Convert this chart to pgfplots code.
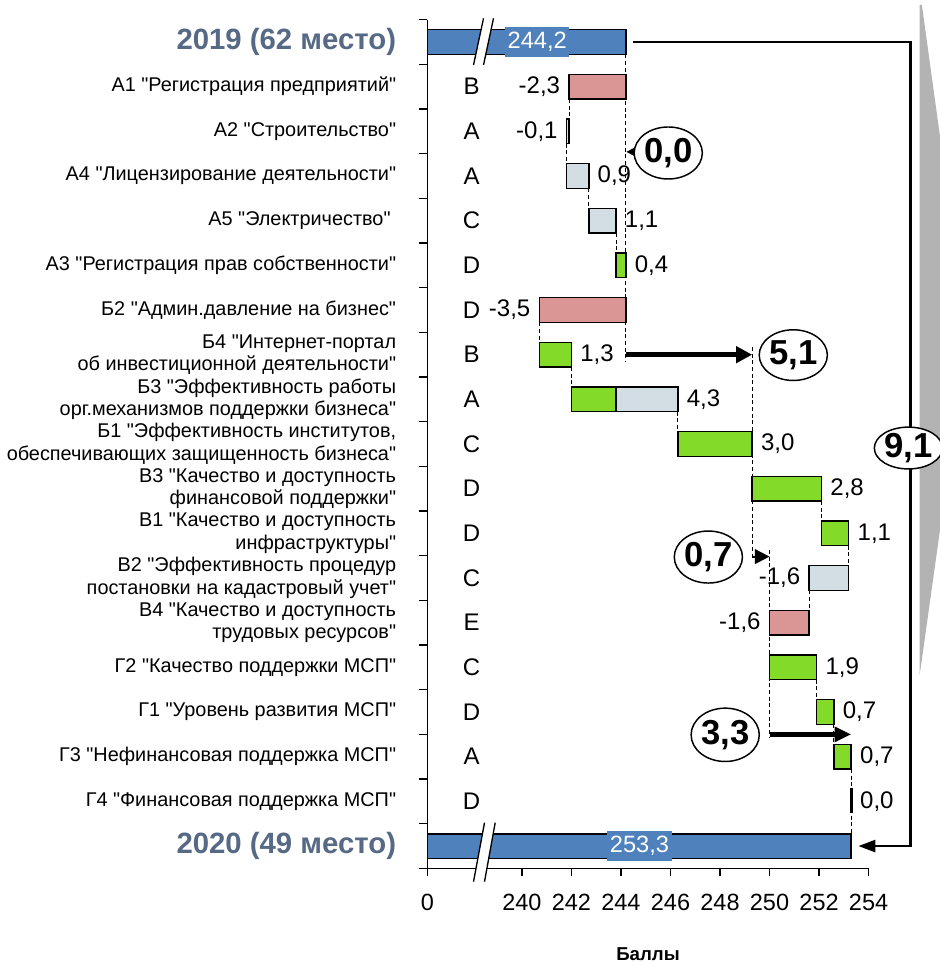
\documentclass[border=0pt]{standalone}
\usepackage{fontspec}
\setmainfont{Liberation Sans}[Ligatures=TeXOff]
\usepackage{pgfplots}
\pgfplotsset{compat=1.18}
\usetikzlibrary{arrows.meta,shapes.geometric}

\definecolor{barblue}{RGB}{79,129,189}
\definecolor{pgreen}{RGB}{132,218,40}
\definecolor{ppink}{RGB}{218,150,148}
\definecolor{pgray}{RGB}{210,222,228}
\definecolor{yearcol}{RGB}{86,106,134}
\definecolor{wedge}{RGB}{179,179,179}

\newcommand{\wbar}[4]{%
  \pgfmathsetmacro{\ylo}{#1-0.275}\pgfmathsetmacro{\yhi}{#1+0.275}%
  \edef\tmp{\noexpand\addplot[fill=#4, draw=black, line width=1.1pt, line join=miter] coordinates {(#2,\ylo) (#3,\ylo) (#3,\yhi) (#2,\yhi)} -- cycle;}\tmp}
\newcommand{\conn}[3]{\addplot[black, line width=0.7pt, dash pattern=on 3pt off 2pt] coordinates {(#1,#2) (#1,#3)};}
\newcommand{\valE}[3]{\node[anchor=east, inner sep=0pt, xshift=-6.5pt, font=\fontsize{18}{21}\selectfont] at (axis cs:#2,#1) {#3};}
\newcommand{\valW}[3]{\node[anchor=west, inner sep=0pt, xshift=6.5pt, font=\fontsize{18}{21}\selectfont] at (axis cs:#2,#1) {#3};}
\newcommand{\grade}[2]{\node[inner sep=0pt, font=\fontsize{18}{21}\selectfont] at (axis cs:237.97,#1) {#2};}
\newcommand{\yearlab}[1]{\textbf{\color{yearcol}\fontsize{22}{26}\selectfont #1}}

\begin{document}
\begin{tikzpicture}
\begin{axis}[
  scale only axis,
  width=330.75pt, height=636.45pt,
  xmin=236.186, xmax=254,
  ymin=-0.5, ymax=18.5,
  clip=false,
  axis x line*=bottom, axis y line*=left,
  axis line style={line width=1pt},
  tick align=outside,
  major tick length=6pt,
  tick style={black, line width=1pt},
  xtick={236.186,240,242,244,246,248,250,252,254},
  xticklabels={0,240,242,244,246,248,250,252,254},
  xticklabel style={font=\fontsize{17.6}{20}\selectfont, yshift=-10pt},
  ytick={-0.5,0.5,...,18.5},
  yticklabels={},
  extra y ticks={0,1,...,18},
  extra y tick style={tick style={draw=none}},
  extra y tick labels={
    \yearlab{2020 (49 место)},
    Г4 "Финансовая поддержка МСП",
    Г3 "Нефинансовая поддержка МСП",
    Г1 "Уровень развития МСП",
    Г2 "Качество поддержки МСП",
    {В4 "Качество и доступность\\трудовых ресурсов"},
    {В2 "Эффективность процедур\\постановки на кадастровый учет"},
    {В1 "Качество и доступность\\инфраструктуры"},
    {В3 "Качество и доступность\\финансовой поддержки"},
    {Б1 "Эффективность институтов,\\обеспечивающих защищенность бизнеса"},
    {Б3 "Эффективность работы\\орг.механизмов поддержки бизнеса"},
    {Б4 "Интернет-портал\\об инвестиционной деятельности"~},
    Б2 "Админ.давление на бизнес",
    А3 "Регистрация прав собственности",
    А5 "Электричество"~,
    А4 "Лицензирование деятельности",
    А2 "Строительство",
    А1 "Регистрация предприятий",
    \yearlab{2019 (62 место)}},
  yticklabel style={align=right, font=\fontsize{14.9}{17}\selectfont, xshift=-14pt},
  xlabel={\textbf{Баллы}},
  xlabel style={at={(axis description cs:0.5,0)}, anchor=center, yshift=-64pt, font=\fontsize{14}{16}\selectfont},
]
% decorative wedge on the right
\fill[wedge] (axis cs:256.065,18.828) -- (axis cs:256.154,18.828) -- (axis cs:257.99,11.44) -- (axis cs:256.065,3.83) -- cycle;

% dashed connectors
\conn{244.2}{17.725}{10.85}
\conn{241.9}{16.725}{16.275}
\conn{241.8}{15.725}{15.275}
\conn{242.7}{14.725}{14.275}
\conn{243.8}{13.725}{13.275}
\conn{240.7}{11.725}{11.275}
\conn{242.0}{10.725}{10.275}
\conn{246.3}{9.725}{9.275}
\conn{249.3}{11.17}{6.40}
\conn{252.1}{7.725}{7.275}
\conn{253.2}{6.725}{6.275}
\conn{251.6}{5.725}{5.275}
\conn{250.0}{6.63}{2.42}
\conn{251.9}{3.725}{3.275}
\conn{252.6}{2.725}{2.275}
\conn{253.3}{1.725}{0.275}

% bars: y, start, end, colour
\wbar{18}{236.186}{244.2}{barblue}
\wbar{17}{241.9}{244.2}{ppink}
\wbar{16}{241.8}{241.9}{pgray}
\wbar{15}{241.8}{242.7}{pgray}
\wbar{14}{242.7}{243.8}{pgray}
\wbar{13}{243.8}{244.2}{pgreen}
\wbar{12}{240.7}{244.2}{ppink}
\wbar{11}{240.7}{242.0}{pgreen}
\wbar{10}{242.0}{243.8}{pgreen}
\wbar{10}{243.8}{246.3}{pgray}
\wbar{9}{246.3}{249.3}{pgreen}
\wbar{8}{249.3}{252.1}{pgreen}
\wbar{7}{252.1}{253.2}{pgreen}
\wbar{6}{251.6}{253.2}{pgray}
\wbar{5}{250.0}{251.6}{ppink}
\wbar{4}{250.0}{251.9}{pgreen}
\wbar{3}{251.9}{252.6}{pgreen}
\wbar{2}{252.6}{253.3}{pgreen}
\addplot[black, line width=2pt] coordinates {(253.3,1.3) (253.3,0.75)};
\wbar{0}{236.186}{253.3}{barblue}

% axis breaks
\fill[white] (axis cs:238.449,18.531) -- (axis cs:238.853,18.531) -- (axis cs:238.449,17.485) -- (axis cs:238.045,17.485) -- cycle;
\draw[line width=1pt] (axis cs:238.449,18.531) -- (axis cs:238.045,17.485);
\draw[line width=1pt] (axis cs:238.853,18.531) -- (axis cs:238.449,17.485);
\fill[white] (axis cs:238.489,0.523) -- (axis cs:238.921,0.523) -- (axis cs:238.489,-0.798) -- (axis cs:238.045,-0.798) -- cycle;
\draw[line width=1pt] (axis cs:238.489,0.523) -- (axis cs:238.045,-0.798);
\draw[line width=1pt] (axis cs:238.921,0.523) -- (axis cs:238.489,-0.798);

% total labels
\node[fill=barblue, text=white, inner xsep=2pt, inner ysep=0pt, minimum height=22pt, font=\fontsize{17.7}{20}\selectfont] at (axis cs:240.618,18) {244,2};
\node[fill=barblue, text=white, inner xsep=2pt, inner ysep=0pt, minimum height=22pt, font=\fontsize{17.7}{20}\selectfont] at (axis cs:244.748,0) {253,3};

% value labels
\valE{17}{241.9}{-2,3}
\valE{16}{241.8}{-0,1}
\valW{15}{242.7}{0,9}
\valW{14}{243.8}{1,1}
\valW{13}{244.2}{0,4}
\valE{12}{240.7}{-3,5}
\valW{11}{242.0}{1,3}
\valW{10}{246.3}{4,3}
\valW{9}{249.3}{3,0}
\valW{8}{252.1}{2,8}
\valW{7}{253.2}{1,1}
\valE{6}{251.6}{-1,6}
\valE{5}{250.0}{-1,6}
\valW{4}{251.9}{1,9}
\valW{3}{252.6}{0,7}
\valW{2}{253.3}{0,7}
\valW{1}{253.3}{0,0}

% grades
\grade{17}{B}\grade{16}{A}\grade{15}{A}\grade{14}{C}\grade{13}{D}\grade{12}{D}
\grade{11}{B}\grade{10}{A}\grade{9}{C}\grade{8}{D}\grade{7}{D}\grade{6}{C}
\grade{5}{E}\grade{4}{C}\grade{3}{D}\grade{2}{A}\grade{1}{D}

% group change arrows
\addplot[black, line width=1pt, -{Triangle[length=7pt,width=7pt]}] coordinates {(244.7,15.54) (244.22,15.54)};
\addplot[black, line width=3.75pt, -{Triangle[length=12pt,width=12pt]}] coordinates {(244.2,11) (249.3,11)};
\addplot[black, line width=1.5pt, -{Triangle[length=11pt,width=11pt]}] coordinates {(249.3,6.48) (250.0,6.48)};
\addplot[black, line width=3.75pt, -{Triangle[length=12.5pt,width=11pt]}] coordinates {(250.0,2.5) (253.3,2.5)};
\addplot[black, line width=2pt, -{Triangle[length=12.75pt,width=9pt]}] coordinates {(244.5,18) (255.69,18) (255.69,0) (253.59,0)};

% ellipses
\node[ellipse, draw, fill=white, line width=1.1pt, minimum width=50pt, minimum height=39pt, inner sep=0pt, font=\bfseries\fontsize{26}{30}\selectfont] at (axis cs:245.91,15.515) {0,0};
\node[ellipse, draw, fill=white, line width=1.1pt, minimum width=50pt, minimum height=38pt, inner sep=0pt, font=\bfseries\fontsize{26}{30}\selectfont] at (axis cs:250.96,10.99) {5,1};
\node[ellipse, draw, fill=white, line width=1.1pt, minimum width=51pt, minimum height=39pt, inner sep=0pt, font=\bfseries\fontsize{26}{30}\selectfont] at (axis cs:247.53,6.47) {0,7};
\node[ellipse, draw, fill=white, line width=1.1pt, minimum width=51pt, minimum height=40pt, inner sep=0pt, font=\bfseries\fontsize{26}{30}\selectfont] at (axis cs:248.21,2.49) {3,3};
\node[ellipse, draw, fill=white, line width=1.1pt, minimum width=49pt, minimum height=31pt, inner sep=0pt, font=\bfseries\fontsize{26}{30}\selectfont] at (axis cs:255.61,8.91) {9,1};

\coordinate (bbSW) at (axis cs:218.92,-2.618);
\coordinate (bbNE) at (axis cs:256.86,18.94);
\end{axis}
\pgfresetboundingbox
\path[use as bounding box] (bbSW) rectangle (bbNE);
\end{tikzpicture}
\end{document}
